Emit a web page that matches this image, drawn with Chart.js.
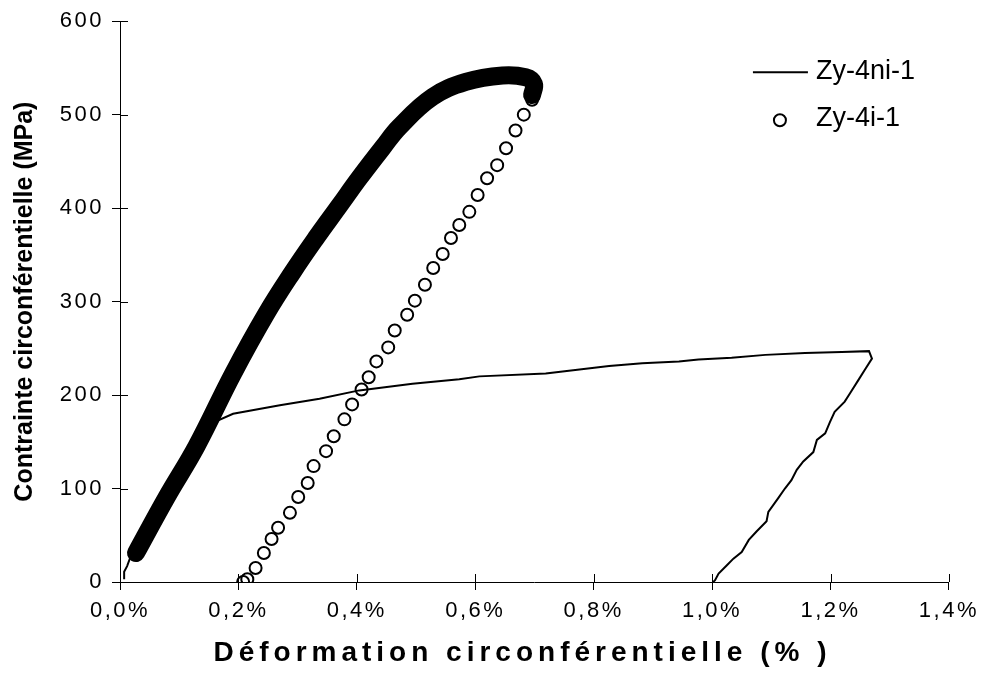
<!DOCTYPE html>
<html lang="fr">
<head>
<meta charset="utf-8">
<title>Contrainte / déformation circonférentielle</title>
<script src="https://cdn.jsdelivr.net/npm/chart.js@4.4.1/dist/chart.umd.min.js"></script>
<style>
  html, body { margin: 0; padding: 0; background: #fff; }
</style>
</head>
<body>
<canvas id="graphique" width="982" height="675"></canvas>
<script>
// Zy-4ni-1 : courbe continue (charge, palier, puis décharge)
const defZy4ni = [0.007, 0.007, 0.012, 0.016, 0.060, 0.110, 0.166, 0.191, 0.270, 0.337, 0.404, 0.494, 0.573, 0.607,
  0.719, 0.826, 0.882, 0.944, 0.977, 1.033, 1.090, 1.157, 1.219, 1.265,
  1.270, 1.258, 1.247, 1.233, 1.224, 1.207, 1.199, 1.191, 1.177, 1.171, 1.154, 1.143, 1.134, 1.123,
  1.112, 1.095, 1.092, 1.075, 1.062, 1.050, 1.036, 1.025, 1.011, 1.005, 1.002];
const contZy4ni = [3, 11, 17, 24, 72, 125, 173, 180, 189, 196, 205, 212, 217, 220,
  223, 231, 234, 236, 238, 240, 243, 245, 246, 247,
  239, 227, 216, 202, 193, 182, 171, 159, 152, 139, 129, 120, 109, 100,
  90, 75, 65, 54, 45, 32, 25, 18, 9, 2, 0];

// Zy-4i-1 : décharge (cercles bien séparés)
const defZy4iDecharge = [0.696, 0.682, 0.668, 0.652, 0.637, 0.620, 0.604, 0.590, 0.573, 0.559, 0.545, 0.529,
  0.515, 0.498, 0.485, 0.464, 0.453, 0.433, 0.420, 0.408, 0.392, 0.379, 0.361, 0.348, 0.327,
  0.317, 0.301, 0.287, 0.267, 0.256, 0.243, 0.229, 0.215, 0.208];
const contZy4iDecharge = [516, 500, 483, 464, 446, 432, 414, 396, 382, 368, 351, 336,
  318, 301, 286, 269, 251, 236, 219, 206, 190, 174, 156, 140, 124,
  106, 91, 74, 58, 46, 31, 15, 3, 0];

// Zy-4i-1 : charge (cercles si serrés qu'ils forment une bande noire)
const defZy4iCharge = [0.027, 0.079, 0.129, 0.191, 0.247, 0.292, 0.331, 0.371, 0.404, 0.444, 0.472,
  0.528, 0.584, 0.646, 0.685, 0.699, 0.696];
const contZy4iCharge = [31, 91, 145, 223, 287, 332, 368, 403, 432, 465, 487,
  519, 535, 542, 540, 533, 521];

const etiquettesX = ['0,0%', '0,2%', '0,4%', '0,6%', '0,8%', '1,0%', '1,2%', '1,4%'];
const etiquettesY = ['0', '100', '200', '300', '400', '500', '600'];

const points = (xs, ys) => xs.map((x, i) => ({ x: x, y: ys[i] }));

// espacement des lettres, comme dans le graphique d'origine
function espacer(scale, nom, esp, decalage) {
  if (scale['_esp_' + nom]) return;
  const orig = scale[nom];
  scale['_esp_' + nom] = true;
  scale[nom] = function (...args) {
    this.ctx.save();
    this.ctx.letterSpacing = esp;
    if (decalage) this.ctx.translate(decalage, 0);
    orig.apply(this, args);
    this.ctx.restore();
  };
}

const espacement = {
  id: 'espacement',
  beforeDraw(chart) {
    espacer(chart.scales.x, 'drawTitle', '5px', -12);
    espacer(chart.scales.x, 'drawLabels', '2.5px');
    espacer(chart.scales.y, 'drawLabels', '2.5px');
  }
};

// graduations qui traversent les axes
const graduations = {
  id: 'graduations',
  beforeDatasetsDraw(chart) {
    const { ctx, chartArea: a, scales: { x, y } } = chart;
    ctx.save();
    ctx.strokeStyle = '#000';
    ctx.lineWidth = 1;
    ctx.beginPath();
    x.ticks.forEach(t => {
      const px = Math.round(x.getPixelForValue(t.value)) + 0.5;
      ctx.moveTo(px, a.bottom);
      ctx.lineTo(px, a.bottom - 8);
    });
    y.ticks.forEach(t => {
      const py = Math.round(y.getPixelForValue(t.value)) + 0.5;
      ctx.moveTo(a.left, py);
      ctx.lineTo(a.left + 8, py);
    });
    ctx.stroke();
    ctx.restore();
  }
};

// légende dans la zone du graphique, en haut à droite
const legende = {
  id: 'legende',
  afterDatasetsDraw(chart) {
    const { ctx, chartArea: a } = chart;
    const ds = chart.data.datasets;
    ctx.save();
    ctx.fillStyle = '#000';
    ctx.strokeStyle = '#000';
    ctx.lineWidth = 2;
    ctx.font = '27px "Liberation Sans", Arial, sans-serif';
    ctx.textBaseline = 'alphabetic';

    ctx.beginPath();
    ctx.moveTo(a.right - 196, a.top + 51);
    ctx.lineTo(a.right - 141, a.top + 51);
    ctx.stroke();
    ctx.fillText(ds[2].label, a.right - 133, a.top + 58);

    ctx.beginPath();
    ctx.arc(a.right - 169, a.top + 99, 6, 0, Math.PI * 2);
    ctx.stroke();
    ctx.fillText(ds[1].label, a.right - 133, a.top + 105);
    ctx.restore();
  }
};

new Chart(document.getElementById('graphique'), {
  type: 'scatter',
  data: {
    datasets: [
      {
        label: 'Zy-4i-1 (charge)',
        data: points(defZy4iCharge, contZy4iCharge),
        showLine: true,
        borderColor: '#000',
        borderWidth: 18,
        borderCapStyle: 'round',
        borderJoinStyle: 'round',
        tension: 0.4,
        pointRadius: 0,
        order: 1
      },
      {
        label: 'Zy-4i-1',
        data: points(defZy4iDecharge, contZy4iDecharge),
        showLine: false,
        pointStyle: 'circle',
        pointRadius: 6,
        pointBorderWidth: 2,
        pointBorderColor: '#000',
        pointBackgroundColor: 'rgba(0,0,0,0)',
        order: 2
      },
      {
        label: 'Zy-4ni-1',
        data: points(defZy4ni, contZy4ni),
        showLine: true,
        borderColor: '#000',
        borderWidth: 2,
        pointRadius: 0,
        tension: 0,
        order: 3
      }
    ]
  },
  options: {
    responsive: false,
    animation: false,
    layout: { padding: { top: 21, right: 31, left: 0, bottom: 0 } },
    plugins: {
      legend: { display: false },
      tooltip: { enabled: false }
    },
    scales: {
      x: {
        type: 'linear',
        min: 0,
        max: 1.4,
        afterFit: s => { s.height = 93; },
        grid: { drawOnChartArea: false, tickLength: 8, color: '#000' },
        border: { color: '#000', width: 1 },
        ticks: {
          stepSize: 0.2,
          padding: 8,
          color: '#000',
          font: { family: '"Liberation Sans", Arial, sans-serif', size: 22 },
          maxRotation: 0,
          callback: (v, i) => etiquettesX[i]
        },
        title: {
          display: true,
          text: 'Déformation circonférentielle (% )',
          color: '#000',
          font: { family: '"Liberation Sans", Arial, sans-serif', size: 28, weight: 'bold' },
          padding: { top: 0, bottom: 5 }
        }
      },
      y: {
        type: 'linear',
        min: 0,
        max: 600,
        afterFit: s => { s.width = 120; },
        grid: { drawOnChartArea: false, tickLength: 8, color: '#000' },
        border: { color: '#000', width: 1 },
        ticks: {
          stepSize: 100,
          padding: 8,
          color: '#000',
          font: { family: '"Liberation Sans", Arial, sans-serif', size: 22 },
          callback: (v, i) => etiquettesY[i]
        },
        title: {
          display: true,
          text: 'Contrainte circonférentielle (MPa)',
          color: '#000',
          font: { family: '"Liberation Sans", Arial, sans-serif', size: 25, weight: 'bold' },
          padding: { top: 10, bottom: 0 }
        }
      }
    }
  },
  plugins: [espacement, graduations, legende]
});
</script>
</body>
</html>
